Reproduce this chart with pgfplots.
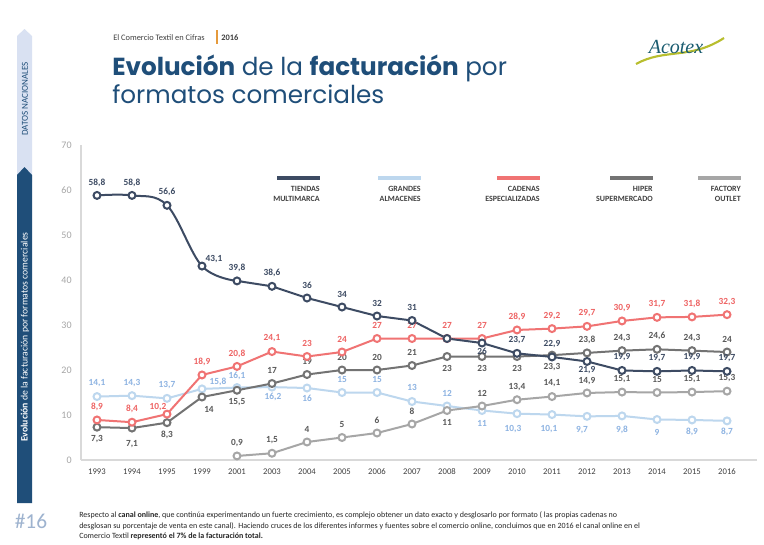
\documentclass[border=0pt]{standalone}
\usepackage{fontspec}
\setmainfont{Carlito}
\newfontfamily\titlefont{Poppins}
\newfontfamily\logofont{Liberation Serif}
\usepackage{pgfplots}
\usepackage{pgfplotstable}
\pgfplotsset{compat=1.18}

\definecolor{navy}{HTML}{3D4B63}
\definecolor{lblue}{HTML}{BDD7EE}
\definecolor{lbluetxt}{HTML}{8DB3E2}
\definecolor{salmon}{HTML}{F07373}
\definecolor{salmontxt}{HTML}{EE6363}
\definecolor{hiper}{HTML}{737373}
\definecolor{factory}{HTML}{A6A6A6}
\definecolor{graytxt}{HTML}{595959}
\definecolor{titleblue}{HTML}{1F4E79}
\definecolor{barlight}{HTML}{D9E1F2}
\definecolor{axisgray}{HTML}{D9D9D9}
\definecolor{ytickgray}{HTML}{A6A6A6}
\definecolor{orangebar}{HTML}{E59A3C}
\definecolor{logoteal}{HTML}{1A5C70}
\definecolor{logogreen}{HTML}{B8BE2E}
\definecolor{hashblue}{HTML}{9EB3CF}
\definecolor{legtxt}{HTML}{404040}

% x = category index (1993,1994,1995,1999,2001,2003,...,2016)
\pgfplotstableread{
x y dy dx lab
0 58.8 13 0 58,8
1 58.8 13 0 58,8
2 56.6 13 0 56,6
3 43.1 7 12 43,1
4 39.8 13 0 39,8
5 38.6 13 0 38,6
6 36 13 0 36
7 34 13 0 34
8 32 13 0 32
9 31 13 0 31
10 27 13 0 {}
11 26 -8 0 26
12 23.7 13 0 23,7
13 22.9 13 0 22,9
14 21.9 -9 0 21,9
15 19.9 13 0 19,9
16 19.7 13 0 19,7
17 19.9 13 0 19,9
18 19.7 13 0 19,7
}\tiendas

\pgfplotstableread{
x y dy dx lab
0 14.1 13 0 14,1
1 14.3 13 0 14,3
2 13.7 13 0 13,7
3 15.8 7 16 15,8
4 16.1 12 0 16,1
5 16.2 -10 1 16,2
6 16 -10 0 16
7 15 13 0 15
8 15 13 0 15
9 13 14 0 13
10 12 13 0 12
11 11 -13 0 11
12 10.3 -15 -4 10,3
13 10.1 -15 -3 10,1
14 9.7 -14 -5 9,7
15 9.8 -14 0 9,8
16 9 -13 0 9
17 8.9 -12 0 8,9
18 8.7 -11 0 8,7
}\grandes

\pgfplotstableread{
x y dy dx lab
0 8.9 13 0 8,9
1 8.4 13 0 8,4
2 10.2 7 -9 10,2
3 18.9 13 0 18,9
4 20.8 13 0 20,8
5 24.1 13 0 24,1
6 23 13 0 23
7 24 13 0 24
8 27 13 0 27
9 27 13 0 27
10 27 13 0 27
11 27 13 0 27
12 28.9 13 0 28,9
13 29.2 13 0 29,2
14 29.7 13 0 29,7
15 30.9 13 0 30,9
16 31.7 13 0 31,7
17 31.8 13 0 31,8
18 32.3 13 0 32,3
}\cadenas

\pgfplotstableread{
x y dy dx lab
0 7.3 -12 0 7,3
1 7.1 -16 0 7,1
2 8.3 -12 0 8,3
3 14 -12 7 14
4 15.5 -12 0 15,5
5 17 13 0 17
6 19 13 0 19
7 20 13 0 20
8 20 13 0 20
9 21 13 0 21
10 23 -12 0 23
11 23 -12 0 23
12 23 -12 0 23
13 23.3 -12 0 23,3
14 23.8 13 0 23,8
15 24.3 13 0 24,3
16 24.6 13 0 24,6
17 24.3 13 0 24,3
18 24 13 0 24
}\hiper

\pgfplotstableread{
x y dy dx lab
4 0.9 13 0 0,9
5 1.5 13 0 1,5
6 4 13 0 4
7 5 13 0 5
8 6 13 0 6
9 8 13 0 8
10 11 -12 0 11
11 12 13 0 12
12 13.4 13 0 13,4
13 14.1 13 0 14,1
14 14.9 12 0 14,9
15 15.1 13 0 15,1
16 15 13 0 15
17 15.1 13 0 15,1
18 15.3 13 0 15,3
}\factory

\pgfplotsset{
  serline/.style={no marks, line width=1.5pt, line join=round, draw=#1, forget plot},
  sermarks/.style 2 args={only marks, mark=*, mark size=2.6pt,
    mark options={fill=white, draw=#1, line width=1.5pt},
    point meta=explicit symbolic,
    visualization depends on={\thisrow{dy}\as\pdy},
    visualization depends on={\thisrow{dx}\as\pdx},
    nodes near coords,
    every node near coord/.append style={anchor=center, inner sep=0pt,
      xshift=\pdx*0.75pt, yshift=\pdy*0.75pt,
      font=\fontsize{7}{8}\selectfont\bfseries, text=#2},
    forget plot},
}

\begin{document}
\begin{tikzpicture}
\begin{scope}[x=0.75pt,y=-0.75pt]
\fill[white] (0,0) rectangle (764,544);
\useasboundingbox (0,0) rectangle (764,544);
% side bar
\fill[barlight] (17,36) -- (24.5,29) -- (32,36) -- (32,182) -- (17,182) -- cycle;
\fill[titleblue] (17,175) -- (24.5,167) -- (32,175) -- (32,503) -- (17,503) -- cycle;
\node[rotate=90, text=titleblue, font=\fontsize{6.8}{7}\selectfont, inner sep=0pt] at (25,99) {DATOS NACIONALES};
\node[rotate=90, text=white, font=\fontsize{7.3}{8}\selectfont, inner sep=0pt] at (25,337) {\textbf{Evolución} de la facturación por formatos comerciales};
\node[text=hashblue, font=\fontsize{16}{18}\selectfont, inner sep=0pt] at (31,521) {\#16};
% header
\node[anchor=base west, inner sep=0pt, text=legtxt, font=\fontsize{6.3}{7}\selectfont] at (113,40) {El Comercio Textil en Cifras};
\draw[orangebar, line width=0.9pt] (217,30) -- (217,44);
\node[anchor=base west, inner sep=0pt, text=legtxt, font=\fontsize{6.3}{7}\selectfont\bfseries] at (221,40) {2016};
\node[anchor=base west, inner sep=0pt, text=titleblue, font=\titlefont\fontsize{18.5}{22}\selectfont] at (112,75) {\textbf{Evolución} de la \textbf{facturación} por};
\node[anchor=base west, inner sep=0pt, text=titleblue, font=\titlefont\fontsize{18.5}{22}\selectfont] at (112,103) {formatos comerciales};
% logo
\draw[logogreen, line width=1.6pt] (636,64) .. controls (665,48) and (690,60) .. (724,38);
\node[text=logoteal, font=\logofont\itshape\fontsize{15}{16}\selectfont, inner sep=0pt] at (676,47) {Acotex};
% legend
\foreach \c/\xa/\xb/\ta/\tb in {navy/277/320/TIENDAS/MULTIMARCA, lblue/378/421/GRANDES/ALMACENES, salmon/497/540/CADENAS/ESPECIALIZADAS, hiper/610/653/HIPER /SUPERMERCADO, factory/698/741/FACTORY /OUTLET}{
  \draw[\c, line width=3pt] (\xa,178) -- (\xb,178);
  \node[anchor=north east, align=right, inner sep=0pt, text=legtxt, font=\fontsize{6}{7.8}\selectfont\bfseries] at (\xb,186) {\ta\\\tb};
}
% footnote
\begin{scope}[every node/.style={anchor=base west, inner sep=0pt, text=black!85, font=\fontsize{6}{7}\selectfont}]
\node at (79,517.5) {Respecto al \textbf{canal online}, que continúa experimentando un fuerte crecimiento, es complejo obtener un dato exacto y desglosarlo por formato ( las propias cadenas no};
\node at (79,528) {desglosan su porcentaje de venta en este canal). Haciendo cruces de los diferentes informes y fuentes sobre el comercio online, concluimos que en 2016 el canal online en el};
\node at (79,538.5) {Comercio Textil \textbf{representó el 7\% de la facturación total.}};
\end{scope}
\end{scope}

\begin{axis}[
  at={(60.75pt,-345pt)}, anchor=south west,
  scale only axis, width=507pt, height=236.25pt,
  xmin=-0.457, xmax=18.857, ymin=0, ymax=70,
  axis x line*=bottom, axis y line*=left,
  axis line style={draw=axisgray, line width=0.8pt, -},
  xtick={0,...,18},
  xticklabels={1993,1994,1995,1999,2001,2003,2004,2005,2006,2007,2008,2009,2010,2011,2012,2013,2014,2015,2016},
  ytick={0,10,...,70},
  major tick length=0pt,
  xticklabel style={text=legtxt, font=\fontsize{6.5}{7}\selectfont, yshift=-3pt},
  yticklabel style={text=ytickgray, font=\fontsize{7.5}{8}\selectfont, xshift=-3.5pt},
  /pgf/number format/assume math mode=true,
  clip=false,
]
\addplot[serline=lblue] table[x=x,y=y] {\grandes};
\addplot[serline=factory] table[x=x,y=y] {\factory};
\addplot[serline=hiper] table[x=x,y=y] {\hiper};
\addplot[serline=salmon] table[x=x,y=y] {\cadenas};
\addplot[serline=navy, smooth, tension=0.6, restrict x to domain=0:4] table[x=x,y=y] {\tiendas};
\addplot[serline=navy, restrict x to domain=4:18] table[x=x,y=y] {\tiendas};

\addplot[sermarks={lblue}{lbluetxt}] table[x=x,y=y,meta=lab] {\grandes};
\addplot[sermarks={factory}{graytxt}] table[x=x,y=y,meta=lab] {\factory};
\addplot[sermarks={hiper}{graytxt}] table[x=x,y=y,meta=lab] {\hiper};
\addplot[sermarks={salmon}{salmontxt}] table[x=x,y=y,meta=lab] {\cadenas};
\addplot[sermarks={navy}{navy}] table[x=x,y=y,meta=lab] {\tiendas};
\end{axis}
\end{tikzpicture}
\end{document}
